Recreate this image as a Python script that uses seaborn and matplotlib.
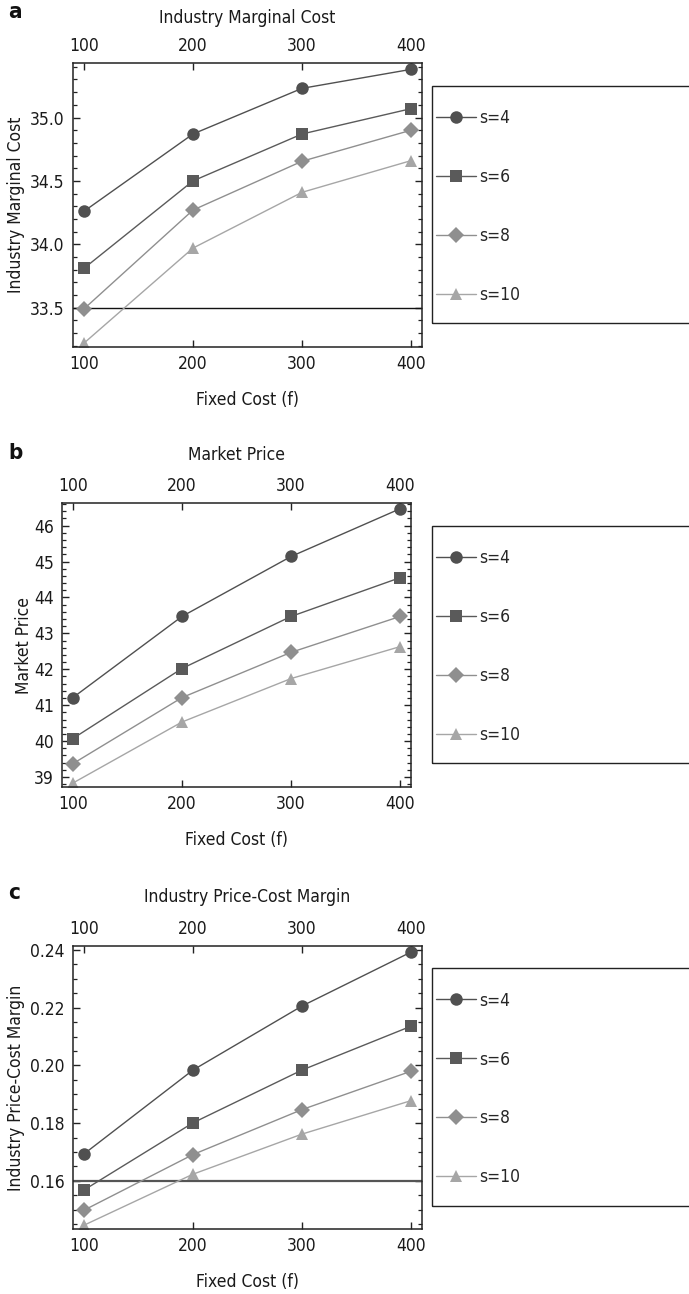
import matplotlib
matplotlib.use("Agg")
import matplotlib.pyplot as plt
import numpy as np
import pandas as pd
import seaborn as sns
from matplotlib import font_manager
from matplotlib.patches import Rectangle
from matplotlib.ticker import MultipleLocator, FixedLocator, NullLocator

# ---------------- data ----------------
fixed_cost = [100, 200, 300, 400]
series_labels = ["s=4", "s=6", "s=8", "s=10"]

mc_s4 = [34.26, 34.87, 35.23, 35.38]
mc_s6 = [33.81, 34.50, 34.87, 35.07]
mc_s8 = [33.49, 34.27, 34.655, 34.90]
mc_s10 = [33.22, 33.97, 34.41, 34.66]

price_s4 = [41.21, 43.47, 45.14, 46.47]
price_s6 = [40.07, 42.02, 43.47, 44.55]
price_s8 = [39.37, 41.21, 42.47, 43.47]
price_s10 = [38.83, 40.53, 41.74, 42.63]

pcm_s4 = [0.1693, 0.1984, 0.2206, 0.2393]
pcm_s6 = [0.1568, 0.1801, 0.1984, 0.2136]
pcm_s8 = [0.1498, 0.1691, 0.1847, 0.1980]
pcm_s10 = [0.1446, 0.1623, 0.1762, 0.1878]

mc_reference = 33.5
pcm_reference = 0.16

x_ticks = [100, 200, 300, 400]
mc_yticks = [33.5, 34.0, 34.5, 35.0]
price_yticks = [39, 40, 41, 42, 43, 44, 45, 46]
pcm_yticks = [0.16, 0.18, 0.20, 0.22, 0.24]

# ---------------- style ----------------
sns.set_style("ticks")

_fonts = font_manager.fontManager.ttflist
_names = {f.name for f in _fonts}
_condensed_dejavu = any(f.name == "DejaVu Sans" and "ondensed" in f.fname for f in _fonts)
if "Liberation Sans Narrow" in _names:
    plt.rcParams["font.family"] = ["Liberation Sans Narrow", "DejaVu Sans"]
    FS = 14
elif _condensed_dejavu:
    plt.rcParams["font.family"] = ["DejaVu Sans", "Liberation Sans"]
    plt.rcParams["font.stretch"] = "condensed"
    FS = 12.5
else:
    plt.rcParams["font.family"] = ["Liberation Sans", "DejaVu Sans"]
    FS = 13
plt.rcParams["font.size"] = FS

palette = {"s=4": "#505050", "s=6": "#5a5a5a", "s=8": "#8f8f8f", "s=10": "#a6a6a6"}
markers = {"s=4": "o", "s=6": "s", "s=8": "D", "s=10": "^"}
msizes = {"s=4": 9, "s=6": 8.6, "s=8": 8.4, "s=10": 9}

W, H = 689, 1294
fig = plt.figure(figsize=(W / 100, H / 100), dpi=100)


def fx(px):
    return px / W


def fy(py):
    return 1 - py / H


panels = [
    dict(letter="a", title="Industry Marginal Cost", ylabel="Industry Marginal Cost",
         series=[mc_s4, mc_s6, mc_s8, mc_s10], ylim=(33.19, 35.43), yticks=mc_yticks,
         fmt="{:.1f}", minor=0.1, ref=mc_reference, refcolor="#111111", reflw=1.0,
         box=(73, 63, 422, 347), legbox=(432, 86, 323), letter_y=12, ylab_x=25, tpad=10),
    dict(letter="b", title="Market Price", ylabel="Market Price",
         series=[price_s4, price_s6, price_s8, price_s10], ylim=(38.72, 46.63), yticks=price_yticks,
         fmt="{:d}", minor=0.2, ref=None,
         box=(62, 503, 411, 787), legbox=(432, 526, 763), letter_y=453, ylab_x=33, tpad=12),
    dict(letter="c", title="Industry Price-Cost Margin", ylabel="Industry Price-Cost Margin",
         series=[pcm_s4, pcm_s6, pcm_s8, pcm_s10], ylim=(0.1433, 0.2414), yticks=pcm_yticks,
         fmt="{:.2f}", minor=0.005, ref=pcm_reference, refcolor="#555555", reflw=1.6,
         box=(73, 946, 422, 1229), legbox=(432, 968, 1206), letter_y=893, ylab_x=25, tpad=13),
]

for p in panels:
    l, t, r, b = p["box"]
    ax = fig.add_axes([fx(l), fy(b), fx(r) - fx(l), fy(t) - fy(b)])
    rows = []
    for lab, vals in zip(series_labels, p["series"]):
        for xv, yv in zip(fixed_cost, vals):
            rows.append({"f": xv, "v": yv, "s": lab})
    df = pd.DataFrame(rows)
    sns.lineplot(data=df, x="f", y="v", hue="s", style="s", hue_order=series_labels,
                 style_order=series_labels, palette=palette, markers=markers, dashes=False,
                 linewidth=1.0, markeredgewidth=0, ax=ax, legend=False)
    lines = list(ax.lines)[:4]
    for ln, lab in zip(lines, series_labels):
        ln.set_markersize(msizes[lab])
    if p["ref"] is not None:
        ax.axhline(p["ref"], color=p["refcolor"], lw=p["reflw"], zorder=1)

    ax.set_xlim(90, 410)
    ax.set_ylim(*p["ylim"])
    ax.xaxis.set_major_locator(FixedLocator(x_ticks))
    ax.xaxis.set_minor_locator(NullLocator())
    ax.yaxis.set_major_locator(FixedLocator(p["yticks"]))
    ax.yaxis.set_minor_locator(MultipleLocator(p["minor"]))
    if p["fmt"] == "{:d}":
        ax.set_yticklabels([str(int(v)) for v in p["yticks"]])
    else:
        ax.set_yticklabels([p["fmt"].format(v) for v in p["yticks"]])
    ax.set_xticklabels([str(v) for v in x_ticks])
    ax.tick_params(which="both", direction="in", top=True, right=True, labeltop=True,
                   labelbottom=True, colors="#222222", labelcolor="#1a1a1a", labelsize=FS)
    ax.tick_params(which="major", length=5, width=1.0, pad=6)
    ax.tick_params(which="minor", length=3, width=0.9)
    for sp in ax.spines.values():
        sp.set_linewidth(1.1)
        sp.set_color("#222222")
        sp.set_visible(True)
    ax.set_xlabel("Fixed Cost (f)", fontsize=FS, labelpad=13, color="#1a1a1a")
    ax.set_ylabel(p["ylabel"], fontsize=FS, color="#1a1a1a")
    ax.yaxis.set_label_coords((p["ylab_x"] - l) / (r - l), 0.5)
    ax.set_title(p["title"], fontsize=FS, pad=p["tpad"], color="#1a1a1a")

    fig.text(fx(8), fy(p["letter_y"]), p["letter"], fontsize=FS + 3.5, fontweight="bold",
             ha="left", va="center", color="#111111")

    lx, ltop, lbot = p["legbox"]
    fig.patches.append(Rectangle((fx(lx), fy(lbot)), fx(W + 20) - fx(lx), fy(ltop) - fy(lbot),
                                 transform=fig.transFigure, fill=False, edgecolor="#222222",
                                 linewidth=1.0, zorder=5))
    leg = ax.legend(lines, series_labels, loc="center left",
                    bbox_to_anchor=(fx(436), fy((ltop + lbot) / 2 + 2)),
                    bbox_transform=fig.transFigure, borderaxespad=0, borderpad=0,
                    frameon=False, fontsize=FS,
                    handlelength=2.3, handletextpad=0.2, labelspacing=2.36)

fig.savefig("out.png", dpi=100)
